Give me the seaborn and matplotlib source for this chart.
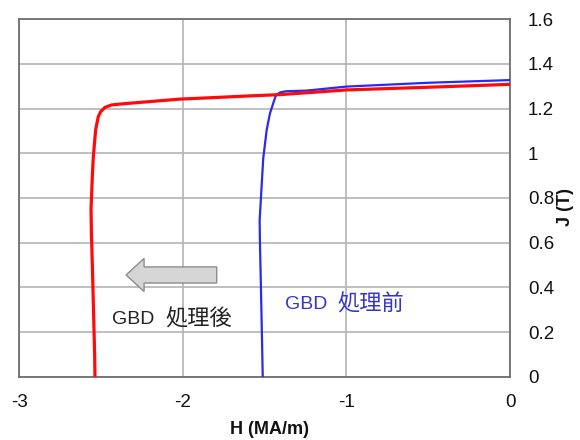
import matplotlib
matplotlib.use("Agg")
import matplotlib.pyplot as plt
from matplotlib.patches import FancyArrow
import seaborn as sns
import pandas as pd

# Demagnetization curves J(H), before and after grain-boundary diffusion (GBD)
after_H = [-2.536, -2.538, -2.545, -2.552, -2.558, -2.560, -2.552, -2.546, -2.532,
           -2.516, -2.501, -2.475, -2.434, -2.350, -2.200, -2.017, -1.894, -1.600,
           -1.405, -1.000, -0.500, 0.000]
after_J = [0.000, 0.100, 0.300, 0.500, 0.650, 0.750, 0.900, 0.985, 1.104,
           1.163, 1.186, 1.205, 1.216, 1.222, 1.231, 1.242, 1.246, 1.256,
           1.262, 1.283, 1.295, 1.308]

before_H = [-1.511, -1.515, -1.522, -1.528, -1.530, -1.522, -1.508, -1.487, -1.467,
            -1.447, -1.430, -1.405, -1.370, -1.243, -1.000, -0.500, 0.000]
before_J = [0.000, 0.150, 0.400, 0.600, 0.700, 0.800, 0.977, 1.104, 1.178,
            1.223, 1.260, 1.272, 1.277, 1.280, 1.298, 1.315, 1.327]

x_ticks = [-3, -2, -1, 0]
x_tick_labels = ["-3", "-2", "-1", "0"]
y_ticks = [0, 0.2, 0.4, 0.6, 0.8, 1.0, 1.2, 1.4, 1.6]
y_tick_labels = ["0", "0.2", "0.4", "0.6", "0.8", "1", "1.2", "1.4", "1.6"]

prefix = "GBD"
label_after = "処理後"
label_before = "処理前"

sns.set_theme(style="white")
plt.rcParams["font.family"] = ["Liberation Sans", "Noto Sans CJK JP", "DejaVu Sans"]

df_after = pd.DataFrame({"H": after_H, "J": after_J})
df_before = pd.DataFrame({"H": before_H, "J": before_J})

fig = plt.figure(figsize=(5.8, 4.4), dpi=100)
ax = fig.add_axes([0.0328, 0.1432, 0.8466, 0.8136])

# estimator=None keeps the points in measurement order (no grouping by H)
sns.lineplot(data=df_before, x="H", y="J", sort=False, estimator=None, ax=ax,
             color="#2a2af0", linewidth=1.6, zorder=3)
sns.lineplot(data=df_after, x="H", y="J", sort=False, estimator=None, ax=ax,
             color="#ff0a0a", linewidth=2.3, zorder=4)

ax.set_xlim(-3, 0)
ax.set_ylim(0, 1.6)
ax.set_xticks(x_ticks)
ax.set_xticklabels(x_tick_labels)
ax.set_yticks(y_ticks)
ax.set_yticklabels(y_tick_labels)
ax.yaxis.tick_right()
ax.yaxis.set_label_position("right")
ax.tick_params(axis="both", length=0, labelsize=13.5, colors="#111111")
ax.tick_params(axis="x", pad=12)
ax.tick_params(axis="y", pad=13)

ax.grid(True, color="#b4b4b4", linewidth=1.2)
ax.set_axisbelow(True)
for s in ax.spines.values():
    s.set_color("#707070")
    s.set_linewidth(1.3)

ax.set_xlabel("H (MA/m)", fontsize=13, fontweight="bold", color="#111111")
ax.xaxis.set_label_coords(0.511, -0.122)
ax.set_ylabel("J (T)", fontsize=13, fontweight="bold", color="#111111", rotation=90)
ax.yaxis.label.set_va("center")
ax.yaxis.label.set_ha("center")
ax.yaxis.set_label_coords(1.112, 0.475)

# shift arrow towards lower coercivity
ax.add_patch(FancyArrow(-1.792, 0.456, -0.554, 0, width=0.072, head_width=0.148,
                        head_length=0.11, length_includes_head=True,
                        facecolor="#d6d6d6", edgecolor="#8c8c8c", linewidth=1.0,
                        zorder=5))

# curve annotations
ax.text(-2.434, 0.255, prefix, fontsize=14, color="#222222",
        ha="left", va="center", zorder=6)
ax.text(-1.90, 0.255, label_after, fontsize=16, color="#222222",
        ha="center", va="center", zorder=6)
ax.text(-1.377, 0.322, prefix, fontsize=14, color="#3535cc",
        ha="left", va="center", zorder=6)
ax.text(-0.853, 0.322, label_before, fontsize=16, color="#3535cc",
        ha="center", va="center", zorder=6)

fig.savefig("out.png", dpi=100, facecolor="white")
